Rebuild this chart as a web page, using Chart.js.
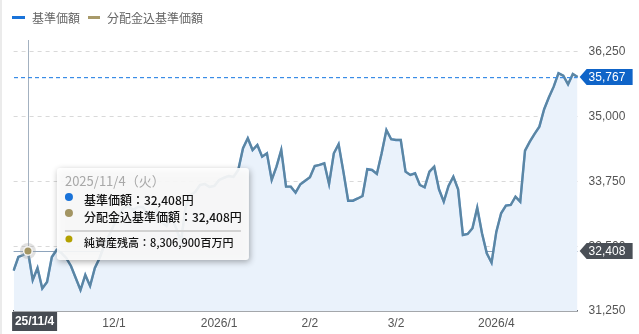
<!DOCTYPE html>
<html><head><meta charset="utf-8">
<script src="https://cdn.jsdelivr.net/npm/chart.js@4.4.1/dist/chart.umd.min.js"></script>
<style>
html,body{margin:0;padding:0;background:#fff;}
#wrap{position:relative;width:639px;height:334px;overflow:hidden;}
#edge{position:absolute;left:0;top:0;width:2px;height:334px;background:#ebebeb;}
#legend{position:absolute;left:12px;top:9px;font:12px "Noto Sans CJK JP",sans-serif;color:#666;display:flex;align-items:center;line-height:17px;}
.sw{display:inline-block;width:13px;height:3px;margin-right:7px;}
.item{display:flex;align-items:center;margin-right:8px;}
</style></head>
<body><div id="wrap"><canvas id="c" width="639" height="334"></canvas><div id="edge"></div>
<div id="legend"><span class="item"><span class="sw" style="background:#1a73d9"></span>基準価額</span><span class="item"><span class="sw" style="background:#a89a6a;width:12px"></span>分配金込基準価額</span></div></div>
<script>
const dates = [
"2025/10/29","2025/10/30","2025/10/31","2025/11/4","2025/11/5","2025/11/6","2025/11/7","2025/11/10","2025/11/11","2025/11/12",
"2025/11/13","2025/11/14","2025/11/17","2025/11/18","2025/11/19","2025/11/20","2025/11/21","2025/11/25","2025/11/26","2025/11/27",
"2025/11/28","2025/12/1","2025/12/2","2025/12/3","2025/12/4","2025/12/5","2025/12/8","2025/12/9","2025/12/10","2025/12/11",
"2025/12/12","2025/12/15","2025/12/16","2025/12/17","2025/12/18","2025/12/19","2025/12/22","2025/12/23","2025/12/24","2025/12/25",
"2025/12/26","2025/12/29","2025/12/30","2026/1/5","2026/1/6","2026/1/7","2026/1/8","2026/1/9","2026/1/13","2026/1/14",
"2026/1/15","2026/1/16","2026/1/19","2026/1/20","2026/1/21","2026/1/22","2026/1/23","2026/1/26","2026/1/27","2026/1/28",
"2026/1/29","2026/1/30","2026/2/2","2026/2/3","2026/2/4","2026/2/5","2026/2/6","2026/2/9","2026/2/10","2026/2/12",
"2026/2/13","2026/2/16","2026/2/17","2026/2/18","2026/2/19","2026/2/20","2026/2/24","2026/2/25","2026/2/26","2026/2/27",
"2026/3/2","2026/3/3","2026/3/4","2026/3/5","2026/3/6","2026/3/9","2026/3/10","2026/3/11","2026/3/12","2026/3/13",
"2026/3/16","2026/3/17","2026/3/18","2026/3/19","2026/3/23","2026/3/24","2026/3/25","2026/3/26","2026/3/27","2026/3/30",
"2026/3/31","2026/4/1","2026/4/2","2026/4/3","2026/4/6","2026/4/7","2026/4/8","2026/4/9","2026/4/10","2026/4/13",
"2026/4/14","2026/4/15","2026/4/16","2026/4/17","2026/4/20","2026/4/21","2026/4/22","2026/4/23","2026/4/24"
];
// 基準価額 (円)
const nav = [
32028,32292,32331,32408,31848,32080,31684,31810,32292,32428,
32370,32273,32119,31887,31655,31945,31733,32080,32273,32524,
32717,32910,33103,33238,33277,33200,33258,33258,33123,33084,
33200,32968,32891,33065,32852,32582,33258,33489,33547,33682,
33702,33644,33663,33779,33818,33856,33837,33972,34391,34584,
34358,34455,34229,34294,33779,34036,34358,33650,33650,33534,
33696,33765,33831,34049,34069,34101,33702,34294,34468,33939,
33379,33379,33422,33470,33986,33972,33895,34294,34744,34565,
34551,34551,33939,33875,33908,33682,33638,33939,34036,33599,
33360,33663,33843,33599,32717,32736,32847,33244,32750,32364,
32182,32781,33136,33283,33296,33457,33360,34345,34518,34667,
34808,35144,35376,35580,35839,35792,35626,35825,35767
];
// 分配金込基準価額 (円) — no distributions in the period, identical to nav
const navWithDividends = nav.slice();
const yTicks = [31250,32500,33750,35000,36250];
const xTickText = {"2025/12/1":"12/1","2026/1/5":"2026/1","2026/2/2":"2/2","2026/3/2":"3/2","2026/4/1":"2026/4"};
const hoverIndex = 3;
const hoverNetAssets = 8306900; // 百万円
const hoverAxisLabel = "25/11/4";

const NUMF = '"Liberation Sans", Arial, sans-serif';
const JPF = '"Noto Sans CJK JP", sans-serif';
const fmt = v => v.toLocaleString('en-US');

function valueTag(ctx, x, yc, text, color){
  ctx.save();
  ctx.fillStyle = color;
  ctx.beginPath();
  ctx.moveTo(x, yc);
  ctx.lineTo(x+7, yc-8);
  ctx.lineTo(x+53, yc-8);
  ctx.lineTo(x+53, yc+8);
  ctx.lineTo(x+7, yc+8);
  ctx.closePath();
  ctx.fill();
  ctx.fillStyle = '#fff';
  ctx.font = '12px ' + NUMF;
  ctx.textBaseline = 'middle';
  ctx.textAlign = 'left';
  ctx.fillText(text, x+9, yc+0.5);
  ctx.restore();
}

const overlay = {
  id:'overlay',
  beforeDatasetsDraw(chart){
    const ctx = chart.ctx, a = chart.chartArea;
    const p = chart.getDatasetMeta(0).data[hoverIndex];
    ctx.save();
    ctx.lineWidth = 1;
    ctx.strokeStyle = '#8ea4bc';
    ctx.beginPath(); ctx.moveTo(a.left, Math.round(p.y)+0.5); ctx.lineTo(a.right, Math.round(p.y)+0.5); ctx.stroke();
    ctx.strokeStyle = '#a3b1c0';
    ctx.beginPath(); ctx.moveTo(Math.round(p.x)+0.5, a.top); ctx.lineTo(Math.round(p.x)+0.5, a.bottom); ctx.stroke();
    ctx.restore();
  },
  afterDatasetsDraw(chart){
    const ctx = chart.ctx, a = chart.chartArea, ys = chart.scales.y;
    const yl = Math.round(ys.getPixelForValue(nav[nav.length-1]));
    ctx.save();
    ctx.fillStyle = '#3a8ce6';
    for (let x = Math.round(a.left); x < a.right; x += 7) {
      ctx.fillRect(x, yl, Math.min(4, a.right - x), 1.2);
    }
    ctx.restore();
  },
  afterDraw(chart){
    const ctx = chart.ctx, a = chart.chartArea, ys = chart.scales.y;
    const p = chart.getDatasetMeta(0).data[hoverIndex];
    ctx.save();
    // hover marker
    ctx.fillStyle = 'rgba(170,170,170,0.35)';
    ctx.beginPath(); ctx.arc(p.x, p.y, 8, 0, Math.PI*2); ctx.fill();
    ctx.fillStyle = '#f4f4f4';
    ctx.beginPath(); ctx.arc(p.x, p.y, 5, 0, Math.PI*2); ctx.fill();
    ctx.fillStyle = '#a39563';
    ctx.beginPath(); ctx.arc(p.x, p.y, 3.5, 0, Math.PI*2); ctx.fill();

    // tooltip
    const tx = p.x + 29, ty = p.y - 83, tw = 192, th = 92;
    ctx.save();
    ctx.shadowColor = 'rgba(0,0,0,0.35)'; ctx.shadowBlur = 6; ctx.shadowOffsetX = 1; ctx.shadowOffsetY = 2;
    ctx.fillStyle = 'rgba(255,255,255,0.9)';
    ctx.beginPath(); ctx.roundRect(tx, ty, tw, th, 3); ctx.fill();
    ctx.restore();
    const parts = dates[hoverIndex].split('/').map(Number);
    const wd = ['日','月','火','水','木','金','土'][new Date(parts[0], parts[1]-1, parts[2]).getDay()];
    ctx.textBaseline = 'middle'; ctx.textAlign = 'left';
    ctx.fillStyle = '#a8a8a8'; ctx.font = '13px ' + JPF;
    ctx.fillText(dates[hoverIndex] + '（' + wd + '）', tx+8, ty+13);
    ctx.fillStyle = '#1a73d9';
    ctx.beginPath(); ctx.arc(tx+12, ty+29, 4, 0, Math.PI*2); ctx.fill();
    ctx.fillStyle = '#a39563';
    ctx.beginPath(); ctx.arc(tx+12, ty+45, 4, 0, Math.PI*2); ctx.fill();
    ctx.fillStyle = '#111'; ctx.font = '500 12px ' + JPF;
    ctx.fillText('基準価額：' + fmt(nav[hoverIndex]) + '円', tx+27, ty+32);
    ctx.fillText('分配金込基準価額：' + fmt(navWithDividends[hoverIndex]) + '円', tx+27, ty+49);
    ctx.strokeStyle = '#d2d2d2'; ctx.lineWidth = 2;
    ctx.beginPath(); ctx.moveTo(tx+8, ty+63); ctx.lineTo(tx+184, ty+63); ctx.stroke();
    ctx.fillStyle = '#b3a100';
    ctx.beginPath(); ctx.arc(tx+12, ty+71, 3.5, 0, Math.PI*2); ctx.fill();
    ctx.fillStyle = '#111'; ctx.font = '500 11px ' + JPF;
    ctx.fillText('純資産残高：' + fmt(hoverNetAssets) + '百万円', tx+27, ty+75);

    // value tags on right axis
    valueTag(ctx, a.right+2, Math.round(ys.getPixelForValue(nav[nav.length-1])), fmt(nav[nav.length-1]), '#0f64c8');
    valueTag(ctx, a.right+2, Math.round(p.y), fmt(nav[hoverIndex]), '#4a4f56');

    // x axis hover label
    ctx.fillStyle = '#474c53';
    ctx.fillRect(a.left-1.5, a.bottom+1, 45, 19);
    ctx.fillStyle = '#fff'; ctx.font = 'bold 12px ' + NUMF;
    ctx.textAlign = 'center'; ctx.textBaseline = 'middle';
    ctx.fillText(hoverAxisLabel, a.left+21, a.bottom+11);
    ctx.restore();
  }
};

new Chart(document.getElementById('c'), {
  type:'line',
  data:{
    labels: dates,
    datasets:[
      {label:'基準価額', data:nav, borderColor:'#2777cc', borderWidth:2.4, pointRadius:0, fill:'start', backgroundColor:'#eaf2fb', tension:0, order:2},
      {label:'分配金込基準価額', data:navWithDividends, borderColor:'rgba(168,154,106,0.42)', borderWidth:2.2, pointRadius:0, fill:false, tension:0, order:1}
    ]
  },
  options:{
    responsive:false, animation:false, devicePixelRatio:1, events:[],
    layout:{padding:{left:13.6, top:40, right:0, bottom:0}},
    plugins:{legend:{display:false}, tooltip:{enabled:false}},
    scales:{
      x:{
        grid:{display:false, drawTicks:false},
        border:{display:true, color:'#4b5058', width:1.5},
        ticks:{autoSkip:false, maxRotation:0, minRotation:0, padding:5, color:'#555',
          font:{family:NUMF, size:12},
          callback:(v,i)=> xTickText[dates[i]] || ''},
        afterFit(s){ s.height = 23; }
      },
      y:{
        position:'right', min:31250, max:36480,
        afterBuildTicks(s){ s.ticks = yTicks.map(v=>({value:v})); },
        grid:{drawTicks:false, color:c => (c.tick && c.tick.value===31250) ? 'rgba(0,0,0,0)' : '#d9d9d9'},
        border:{display:false, dash:[4,4]},
        ticks:{padding:11, color:'#555', font:{family:NUMF, size:12}, callback:v=>fmt(v)},
        afterFit(s){ s.width = 61.4; }
      }
    }
  },
  plugins:[overlay]
});
</script>
</body></html>
